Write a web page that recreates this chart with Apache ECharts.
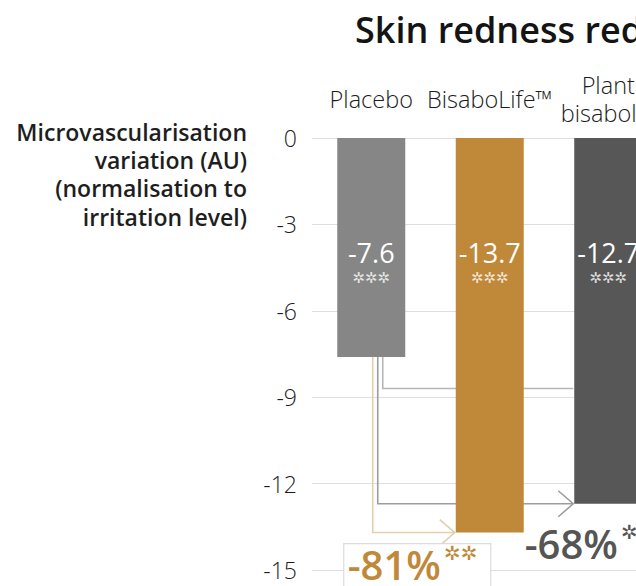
<!DOCTYPE html>
<html>
<head>
<meta charset="utf-8">
<script src="https://cdn.jsdelivr.net/npm/echarts@6/dist/echarts.min.js"></script>
<style>
html,body{margin:0;padding:0;background:#fff;overflow:hidden}
#c{width:636px;height:586px}
</style>
</head>
<body>
<div id="c"></div>
<script>
// ---- data ----
const titleText = 'Skin redness reduction';
const yAxisTitle = ['Microvascularisation', 'variation (AU)', '(normalisation to', 'irritation level)'];
const categories = ['Placebo', 'BisaboLife™', 'Plant\nbisabolol'];
const values = [-7.6, -13.7, -12.7];
const barSignificance = ['***', '***', '***'];
const yMin = -15, yMax = 0, yStep = 3;
// comparisons drawn from the placebo bar
const compTargets = [1, 2, 2];
const compLevels = [-13.7, -12.7, -8.7];
const compArrow = [true, true, false];
const reductions = ['-81%', '-68%'];
const reductionSignificance = ['**', '**'];

// ---- styles ----
const FONT = "'Open Sans', 'Noto Sans', sans-serif";
const STARFONT = "'DejaVu Sans', sans-serif";
const barColors = ['#868686', '#c08839', '#575757'];
const compColors = ['#e2cfae', '#9d9d9d', '#b6b6b6'];
const compOffsets = [1.5, 6.5, 11.5];
const reductionColors = ['#c08839', '#555555'];
const BAR_W = 68;
const star = s => s.replace(/\*/g, '✲');

const chart = echarts.init(document.getElementById('c'), null, {renderer: 'svg'});

const option = {
  animation: false,
  backgroundColor: '#fff',
  title: {
    text: titleText, left: 355, top: 11, padding: 0,
    textStyle: {fontFamily: FONT, fontSize: 36, fontWeight: 550, color: '#141414'}
  },
  graphic: yAxisTitle.map((line, i) => ({
    type: 'text', x: 247, y: 131.5 + i * 28.4,
    style: {
      text: line, align: 'right', verticalAlign: 'middle',
      fontFamily: FONT, fontSize: 23, fontWeight: 550, fill: '#1e1e1e'
    }
  })),
  grid: {left: 312, top: 138, width: 355.5, bottom: 16, outerBoundsMode: 'none', containLabel: false},
  xAxis: {
    type: 'category', position: 'top', data: categories,
    axisLine: {show: false}, axisTick: {show: false}, splitLine: {show: false},
    axisLabel: {
      interval: 0, margin: 39, verticalAlign: 'middle', lineHeight: 28,
      fontFamily: FONT, fontSize: 23.5, fontWeight: 300, color: '#1c1c1c'
    }
  },
  yAxis: {
    type: 'value', min: yMin, max: yMax, interval: yStep,
    axisLine: {show: false}, axisTick: {show: false},
    splitLine: {lineStyle: {color: '#dedede', width: 1.2}},
    axisLabel: {margin: 15, fontFamily: FONT, fontSize: 23, fontWeight: 300, color: '#1c1c1c'}
  },
  series: [
    {
      type: 'custom', z: 1, coordinateSystem: 'cartesian2d',
      data: compTargets.map((t, i) => [t, compLevels[i]]),
      renderItem: function (params, api) {
        const i = params.dataIndex;
        const p0 = api.coord([0, values[0]]);
        const pt = api.coord([api.value(0), api.value(1)]);
        const x0 = p0[0] + compOffsets[i];
        const xEnd = pt[0] - BAR_W / 2 - 1;
        const y = pt[1];
        const children = [{
          type: 'polyline',
          shape: {points: [[x0, p0[1]], [x0, y], [xEnd, y]]},
          style: {stroke: compColors[i], lineWidth: 1.6, fill: null}
        }];
        if (compArrow[i]) {
          children.push({
            type: 'polyline',
            shape: {points: [[xEnd - 15, y - 13], [xEnd, y], [xEnd - 15, y + 13]]},
            style: {stroke: compColors[i], lineWidth: 1.6, fill: null}
          });
        }
        return {type: 'group', children: children};
      }
    },
    {
      type: 'bar', z: 2, barWidth: BAR_W,
      data: values.map((v, i) => ({value: v, itemStyle: {color: barColors[i]}})),
      label: {
        show: true, position: 'insideTop', distance: 99,
        formatter: p => '{v|' + values[p.dataIndex].toFixed(1) + '}\n{s|' + star(barSignificance[p.dataIndex]) + '}',
        rich: {
          v: {fontFamily: FONT, fontSize: 27, color: '#fff', lineHeight: 31, align: 'center'},
          s: {fontFamily: STARFONT, fontSize: 15, color: 'rgba(255,255,255,0.78)', lineHeight: 20, align: 'center'}
        }
      }
    },
    {
      type: 'custom', z: 5, coordinateSystem: 'cartesian2d',
      data: reductions.map((r, i) => [compTargets[i], compLevels[i]]),
      renderItem: function (params, api) {
        const i = params.dataIndex;
        const pt = api.coord([api.value(0), api.value(1)]);
        const rich = {
          p: {fontFamily: FONT, fontSize: 40, fontWeight: 550, fill: reductionColors[i], lineHeight: 44},
          s: {fontFamily: STARFONT, fontSize: 20, fill: reductionColors[i], lineHeight: 22,
              verticalAlign: 'top', padding: [0, 0, 0, 3]}
        };
        const txt = '{p|' + reductions[i] + '}{s|' + star(reductionSignificance[i]) + '}';
        if (i === 0) {
          const p0 = api.coord([0, values[0]]);
          const left = p0[0] - BAR_W / 2 + 6.5;
          const top = pt[1] + 11;
          return {
            type: 'group', x: left, y: top,
            children: [
              {type: 'rect', shape: {x: 0, y: 0, width: 147, height: 60},
               style: {fill: '#fff', stroke: '#dcdcdc', lineWidth: 1.2}},
              {type: 'text', x: 4, y: 21, style: {text: txt, rich: rich, fill: reductionColors[i], align: 'left', verticalAlign: 'middle'}}
            ]
          };
        }
        const pPrev = api.coord([api.value(0) - 1, 0]);
        return {
          type: 'text', x: pPrev[0] + BAR_W / 2 + 1, y: pt[1] + 40,
          style: {text: txt, rich: rich, fill: reductionColors[i], align: 'left', verticalAlign: 'middle'}
        };
      }
    }
  ]
};
chart.setOption(option);
</script>
</body>
</html>
